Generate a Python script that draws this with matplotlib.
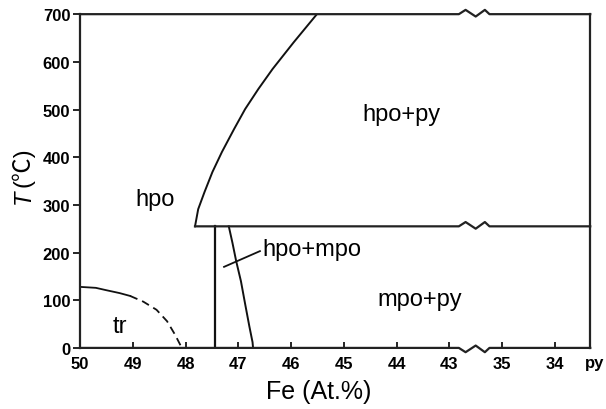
import numpy as np
import matplotlib
matplotlib.use("Agg")
import matplotlib.pyplot as plt

plt.rcParams['font.family'] = ['Liberation Sans', 'DejaVu Sans']

# tick labels along the broken composition axis
tick_labels = ['50', '49', '48', '47', '46', '45', '44', '43', '35', '34']
tick_fe = [50, 49, 48, 47, 46, 45, 44, 43, 35, 34]
py_fe = 33.33
t_ticks = [0, 100, 200, 300, 400, 500, 600, 700]

# hpo / hpo+py boundary
hpo_fe = [47.82, 47.76, 47.64, 47.49, 47.31, 47.08, 46.87, 46.62, 46.35,
          45.95, 45.51]
hpo_t = [255, 291, 327, 369, 411, 459, 501, 543, 585, 641, 700]

# hpo+py / mpo+py tie line temperature
tie_t = 255

# hpo | hpo+mpo boundary (vertical)
left_fe = [47.44, 47.44]
left_t = [0, 255]

# hpo+mpo | mpo+py boundary
right_fe = [47.18, 47.11, 47.04, 46.95, 46.87, 46.79, 46.73, 46.72]
right_t = [255, 220, 182, 140, 92, 45, 12, 0]

# tr solvus (solid then dashed)
tr_solid_fe = [50.00, 49.70, 49.50, 49.25, 49.05]
tr_solid_t = [128, 126, 121, 115, 109]
tr_dash_fe = [49.05, 48.80, 48.55, 48.35, 48.20, 48.07]
tr_dash_t = [109, 97, 80, 56, 28, 0]

BREAK = 7.47


def fe_to_x(fe):
    fe = np.asarray(fe, dtype=float)
    return np.where(fe >= 43, 50 - fe, 8 + (35 - fe))


def wiggle_line(ax, y, x0, x1, sign, amp=9, width=0.58):
    # horizontal line with a small zigzag break mark
    a = BREAK - width / 2
    b = BREAK + width / 2
    t = np.array([0, 0.22, 0.55, 0.85, 1.0])
    off = np.array([0, 1, -0.55, 1, 0]) * amp * sign
    xs = np.concatenate([[x0], a + t * (b - a), [x1]])
    ys = np.concatenate([[y], y + off, [y]])
    ax.plot(xs, ys, color='#222222', lw=1.6, clip_on=False,
            solid_joinstyle='round', zorder=5)


fig = plt.figure(figsize=(6.06, 4.10), dpi=100)
ax = fig.add_axes([0.132, 0.149, 0.842, 0.814])

xmax = float(fe_to_x(py_fe))
ax.set_xlim(0, xmax)
ax.set_ylim(0, 700)

for s in ['top', 'bottom']:
    ax.spines[s].set_visible(False)
for s in ['left', 'right']:
    ax.spines[s].set_linewidth(1.6)
    ax.spines[s].set_color('#222222')

wiggle_line(ax, 700, 0, xmax, 1)
wiggle_line(ax, 0, 0, xmax, -1)
wiggle_line(ax, tie_t, fe_to_x(hpo_fe[0]), xmax, 1)

lc = '#111111'
ax.plot(fe_to_x(hpo_fe), hpo_t, color=lc, lw=1.4)
ax.plot(fe_to_x(left_fe), left_t, color=lc, lw=1.6)
ax.plot(fe_to_x(right_fe), right_t, color=lc, lw=1.4)
ax.plot(fe_to_x(tr_solid_fe), tr_solid_t, color=lc, lw=1.3)
ax.plot(fe_to_x(tr_dash_fe), tr_dash_t, color=lc, lw=1.3,
        dashes=(4.4, 2.8))

# leader line for hpo+mpo label
ax.plot(fe_to_x([47.27, 46.59]), [170, 203], color=lc, lw=1.3)

ax.set_xticks(fe_to_x(tick_fe))
ax.set_xticklabels(tick_labels)
ax.set_yticks(t_ticks)
ax.tick_params(axis='x', direction='in', length=4, width=1.2,
               labelsize=12, pad=6)
ax.tick_params(axis='y', direction='out', length=5, width=1.2,
               labelsize=12, pad=2)
for lab in ax.get_xticklabels() + ax.get_yticklabels():
    lab.set_fontweight('bold')
ax.xaxis.get_major_ticks()[0].tick1line.set_visible(False)
ax.text(xmax + 0.08, -14, 'py', ha='center', va='top', fontsize=12,
        fontweight='bold')

lab_kw = dict(fontsize=17, ha='center', va='center')
ax.text(fe_to_x(48.58), 312, 'hpo', **lab_kw)
ax.text(fe_to_x(49.24), 46, 'tr', **lab_kw)
ax.text(fe_to_x(43.9), 490, 'hpo+py', **lab_kw)
ax.text(fe_to_x(43.56), 103, 'mpo+py', **lab_kw)
ax.text(fe_to_x(46.55), 208, 'hpo+mpo', fontsize=17, ha='left',
        va='center')

fig.text(0.526, 0.044, 'Fe (At.%)', fontsize=18, ha='center', va='center')
fig.text(0.038, 0.519, 'T', fontsize=17, style='italic', rotation=90,
         ha='center', va='center')
fig.text(0.038, 0.592, '(℃)', fontsize=17, rotation=90, ha='center',
         va='center', family=['Liberation Sans', 'Noto Sans CJK SC'])

fig.savefig('out.png', dpi=100)
